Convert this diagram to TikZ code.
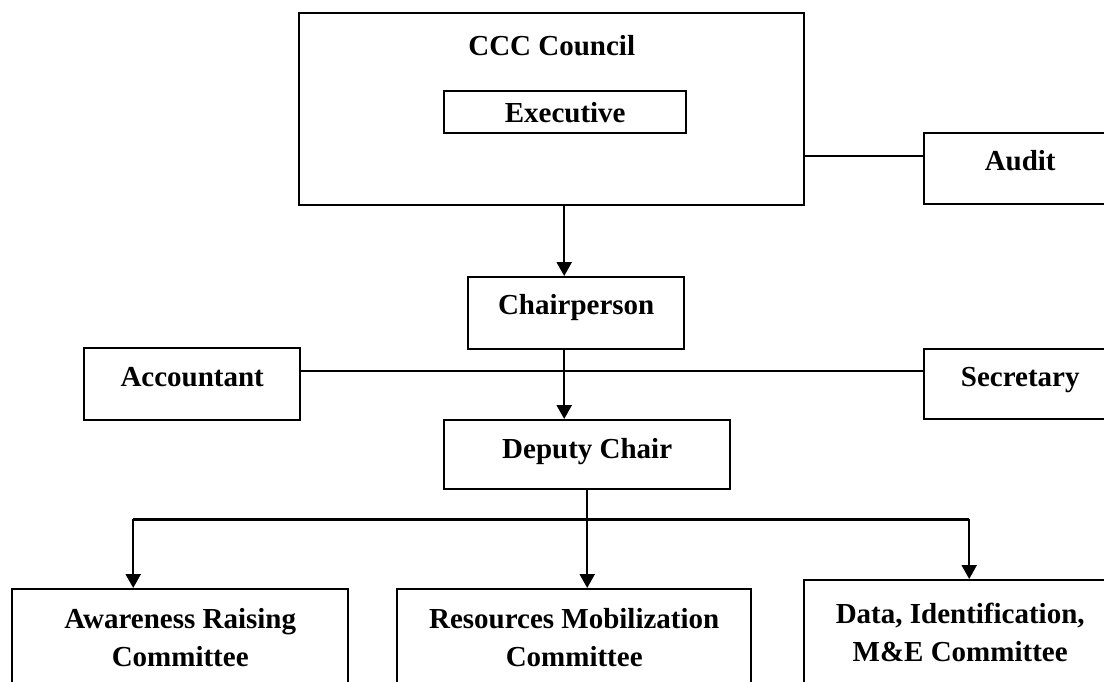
\documentclass[tikz,border=0pt]{standalone}
\usepackage{fontspec}
\setmainfont{Liberation Serif}
\usetikzlibrary{arrows.meta, positioning, calc}

\begin{document}
\begin{tikzpicture}[
  x=0.5pt, y=-0.5pt,
  font=\fontsize{14.5}{19}\selectfont\bfseries,
  box/.style={draw, line width=1.2pt, inner sep=0pt, anchor=north west, align=center},
  link/.style={line width=1.2pt},
  arr/.style={line width=1.2pt, -{Triangle[width=7.5pt,length=7pt]}}
]
\useasboundingbox (0,0) rectangle (1104,681);
% council and its side box
\node[box, minimum width=252.5pt, minimum height=96pt, text height=21pt, text depth=75pt] (council) at (298,12) {CCC Council};
\node[box, minimum width=121pt, minimum height=21pt, text height=15.5pt, text depth=5.5pt] (exec) at (443,90) {Executive};
\node[box, minimum width=96pt, minimum height=35.5pt, text height=18.5pt, text depth=17pt] (audit) at (923,132) {Audit};
% officers
\node[box, minimum width=108pt, minimum height=36pt, text height=18.5pt, text depth=17.5pt] (chair) at (467,276) {Chairperson};
\node[box, minimum width=108pt, minimum height=36pt, text height=19pt, text depth=17pt] (acct) at (83,347) {Accountant};
\node[box, minimum width=96pt, minimum height=35pt, text height=18.5pt, text depth=16.5pt] (sec) at (923,348) {Secretary};
\node[box, minimum width=143pt, minimum height=34.5pt, text height=19pt, text depth=15.5pt] (deputy) at (443,419) {Deputy Chair};
% committees
\node[box, minimum width=168pt, minimum height=48pt] (com1) at (11,588) {Awareness Raising\\Committee};
\node[box, minimum width=177pt, minimum height=48pt] (com2) at (396,588) {Resources Mobilization\\Committee};
\node[box, minimum width=156pt, minimum height=52pt] (com3) at (803,579) {Data, Identification,\\M\&E Committee};

% connectors
\coordinate (a1) at ([yshift=-23.5pt]council.east);
\draw[link] (a1) -- (a1 -| audit.west);
\coordinate (c1) at ([xshift=6.25pt]council.south);
\draw[arr] (c1) -- (c1 |- chair.north);
\coordinate (s1) at ([yshift=6.5pt]acct.east);
\draw[link] (s1) -- (s1 -| sec.west);
\coordinate (c2) at ([xshift=-6pt]chair.south);
\draw[arr] (c2) -- (c2 |- deputy.north);
\coordinate (split) at ([yshift=-14.5pt]deputy.south);
\coordinate (t1) at ([xshift=-23.5pt]com1.north);
\coordinate (t2) at ([xshift=6.5pt]com2.north);
\coordinate (t3) at ([xshift=4.5pt]com3.north);
\draw[link] (deputy.south) -- (split);
\draw[link] (split -| t1) -- (split -| t3);
\foreach \t in {t1,t2,t3}
  \draw[arr] (split -| \t) -- (\t);
\end{tikzpicture}
\end{document}
